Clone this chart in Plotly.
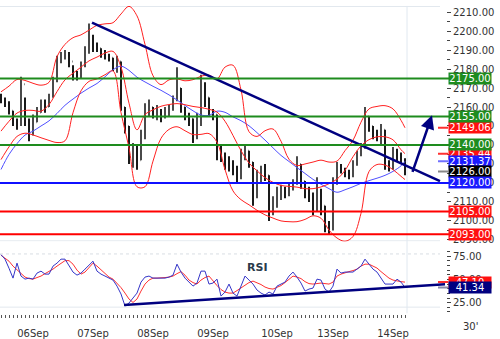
import plotly.graph_objects as go

W, H = 500, 339

def py(p):
    return 1 - p / H

# ---------------- data ----------------
bars = list(range(102))
opens = [2166,2164,2162,2158,2153,2151,2172,2152,2146,2152,
         2157,2162,2160,2165,2174,2184,2187,2188,2184,2176,
         2176,2182,2190,2196,2192,2191,2188,2187,2186,2182,
         2184,2160,2150,2134,2137,2132,2145,2157,2160,2157,
         2158,2155,2158,2159,2164,2170,2160,2156,2154,2145,
         2152,2172,2165,2157,2156,2140,2135,2131,2130,2128,
         2124,2134,2137,2131,2114,2122,2125,2124,2105,2108,
         2114,2116,2115,2117,2120,2130,2121,2116,2113,2106,
         2116,2108,2098,2096,2120,2128,2127,2125,2124,2130,
         2135,2139,2155,2150,2146,2145,2148,2131,2128,2137,
         2135,2132]
highs = [2167,2165,2163,2158,2154,2176,2165,2154,2156,2160,
         2164,2164,2167,2176,2187,2189,2190,2189,2182,2179,
         2184,2192,2204,2198,2194,2191,2190,2188,2186,2187,
         2184,2160,2150,2141,2140,2148,2162,2164,2160,2161,
         2159,2160,2161,2166,2181,2170,2160,2157,2154,2157,
         2177,2173,2165,2159,2156,2140,2136,2134,2132,2129,
         2138,2140,2137,2131,2127,2129,2130,2124,2113,2118,
         2119,2118,2120,2122,2134,2130,2121,2118,2115,2123,
         2117,2108,2100,2123,2131,2130,2128,2127,2132,2137,
         2141,2160,2155,2150,2148,2151,2148,2132,2139,2138,
         2136,2133]
lows = [2162,2160,2156,2150,2148,2150,2150,2142,2145,2152,
        2157,2157,2160,2165,2173,2183,2185,2181,2174,2174,
        2175,2181,2188,2189,2189,2186,2185,2184,2179,2178,
        2158,2146,2130,2128,2127,2132,2143,2155,2154,2153,
        2152,2154,2155,2158,2163,2157,2153,2150,2141,2143,
        2150,2160,2155,2153,2132,2131,2127,2126,2124,2120,
        2122,2132,2128,2108,2112,2120,2121,2100,2103,2107,
        2111,2112,2113,2116,2119,2117,2112,2110,2103,2105,
        2103,2094,2093,2095,2119,2125,2123,2122,2123,2129,
        2134,2138,2147,2143,2142,2140,2127,2126,2127,2131,
        2130,2124]
closes = [2164,2162,2158,2153,2151,2172,2152,2146,2152,2157,
          2162,2160,2165,2174,2184,2187,2188,2184,2176,2176,
          2182,2190,2196,2192,2191,2188,2187,2186,2182,2184,
          2160,2150,2134,2137,2132,2145,2157,2160,2157,2158,
          2155,2158,2159,2164,2170,2160,2156,2154,2145,2152,
          2172,2165,2157,2156,2140,2135,2131,2130,2128,2124,
          2134,2137,2131,2114,2122,2125,2124,2105,2108,2114,
          2116,2115,2117,2120,2130,2121,2116,2113,2106,2116,
          2108,2098,2096,2120,2128,2127,2125,2124,2130,2135,
          2139,2155,2150,2146,2145,2148,2131,2128,2137,2135,
          2132,2126]

band_bars = list(range(0, 101, 2)) + [101]
upper = [2168,2171,2174.5,2174,2172.5,2171.5,2173,2186.5,2193,2196.5,
         2198,2200.5,2203,2203.8,2204.4,2209,2213,2208,2193,2176.5,
         2171.8,2174.3,2174.8,2173.8,2174.4,2176.2,2176.8,2174.8,2181,2182,
         2169,2147,2144.5,2147.5,2148.4,2142,2132.5,2129.2,2130,2131,
         2132,2131,2131.5,2137,2142.5,2152,2159,2160.3,2160.7,2159,
         2153,2149.06]
middle = [2147.3,2152.5,2156.8,2158.2,2158.2,2157.8,2161.3,2168.1,2174.3,2177.8,
          2181,2184.3,2186.3,2188.4,2189.3,2181,2162,2148,2156,2158.5,
          2160.4,2161.3,2161.8,2161.2,2160.3,2159.7,2158.8,2157.3,2152.5,2145,
          2137,2130.5,2126.4,2122.8,2120.3,2118.7,2118.2,2117.8,2117,2117,
          2117.9,2119.6,2122,2126.6,2133.8,2139.5,2142.8,2144.3,2144.3,2142.7,
          2137.5,2135.44]
lower = [2132.3,2139,2144.5,2146.2,2145.3,2143.8,2142.4,2141.3,2142.2,2157,
         2168.5,2173.5,2174.8,2177,2179,2157,2138.5,2118,2118,2131.5,
         2143.5,2148.2,2149.6,2147.5,2145.5,2145.6,2146,2141.5,2127.1,2115.8,
         2111.2,2108.5,2105.6,2103.2,2101.5,2100,2099.6,2099.6,2100.8,2102.7,
         2101.4,2095.2,2091,2089.3,2091.8,2104,2126,2129.7,2129.4,2127,
         2123.5,2121.8]
ma_blue = [2127.1,2135,2140.7,2145.2,2147.3,2150,2152.7,2156.6,2160.9,2164.2,
           2167.3,2170,2172.4,2175.9,2179.6,2181.5,2179.3,2175.7,2173.2,2170.9,
           2168.8,2166.4,2163.7,2160.8,2158,2155.8,2155.6,2157.8,2157.2,2154.8,
           2152.8,2150.1,2146.5,2142.6,2138.5,2134.5,2131.3,2128.1,2125,2121.9,
           2119.3,2117,2115.1,2116.4,2118,2119.8,2121.2,2122.5,2124,2126.1,
           2129,2131.37]

rsi = [76.6,71.8,62,51.4,67.5,53.6,50.3,51.4,50.3,56.8,
       58.9,55.7,55.7,64.3,67.5,71.8,71.8,64.3,57.9,54.6,
       56.8,61.1,65.4,69.6,58.9,55.7,53.6,51.4,49.3,42.8,
       34.3,21.4,24.6,30,35.3,47.1,52.5,53.6,51.4,51.4,
       51.4,51.4,52.5,54.6,66.4,57.9,51.4,47.1,42.8,46.1,
       58.9,58.9,45,46.1,50.3,32.1,36.4,45,35.3,32.1,
       42.8,53.6,49.3,45,38.6,35.3,33.2,36.4,34.3,42.8,
       45,47.1,53.6,57.9,52.5,46.1,37.5,39.6,40.7,50.3,
       49.3,39.6,36.4,42.8,61.1,56.8,57.9,57.9,57.9,61.1,
       64.3,71.8,66.4,61.1,57.9,51.4,45,45,45,50.3,
       47.1,41.34]
rsi_ma = [76,72.9,69.6,64.3,60,56.2,52.5,50.9,50.3,52,
          53.6,56.2,58.4,61.1,64.3,67,70.2,70.2,66.4,60,
          55.7,57.9,63.2,67.5,64.3,60.5,56.8,52.5,50.3,46.1,
          41.2,35.3,28.9,25.2,28.9,37.5,45,49.3,51.4,51.4,
          51.4,52,52.5,53.6,56.2,58.4,54.6,49.3,46.6,45,
          49.3,52,53.6,48.2,43.4,39.1,36.4,35.3,35.3,38,
          40.7,43.9,46.6,48.2,46.6,44.5,41.8,40.2,39.6,41.2,
          43.4,46.6,49.8,53.6,52.5,50.9,47.6,45.5,45,45.5,
          46.1,45.5,45,47.1,53.6,55.7,57.4,58.4,59.5,61.1,
          64.3,66.4,66.4,64.3,62.2,58.4,54.6,51.4,49.3,48.2,
          47.6,47.1]

levels_green = [2175, 2155, 2140]
levels_blue = [2120]
levels_red = [2105, 2093]

trend_x = [22.75, 109.75]
trend_y = [2204.4, 2121.0]
arrow_x = [102.75, 107.75]
arrow_y = [2125.0, 2155.6]
rsi_trend_x = [30.75, 111.0]
rsi_trend_y = [22.6, 44.8]

date_bars = [8, 23, 38, 53, 69, 83, 98]
date_labels = ["06Sep", "07Sep", "08Sep", "09Sep", "10Sep", "13Sep", "14Sep"]
price_ticks = list(range(2090, 2211, 10))
rsi_ticks = [25, 50, 75]

# ---------------- colours ----------------
GREEN = "#1e8c1e"
RED = "#ff0000"
BLUE = "#1010ff"
NAVY = "#000080"
FONT = "DejaVu Sans"

XR = [-0.25, 111.25]
XDOM = [0, 446 / W]
PRICE_RANGE = [2089.22, 2213.25]
RSI_RANGE = [12.5, 80.3]

fig = go.Figure()

# Bollinger / MA lines
fig.add_trace(go.Scatter(x=band_bars, y=ma_blue, mode="lines", line=dict(color="#5050ff", width=1, shape="spline"), xaxis="x", yaxis="y"))
for arr in (upper, middle, lower):
    fig.add_trace(go.Scatter(x=band_bars, y=arr, mode="lines", line=dict(color="#ff2020", width=1, shape="spline"), xaxis="x", yaxis="y"))

# price bars (thin OHLC bars)
fig.add_trace(go.Ohlc(x=bars, open=opens, high=highs, low=lows, close=closes,
                      increasing=dict(line=dict(color="#4a4a4a", width=2)),
                      decreasing=dict(line=dict(color="#1a1a1a", width=2)),
                      tickwidth=0.12, xaxis="x", yaxis="y"))

# trend line
fig.add_trace(go.Scatter(x=trend_x, y=trend_y, mode="lines", line=dict(color=NAVY, width=2.5), xaxis="x", yaxis="y"))

# RSI
fig.add_trace(go.Scatter(x=bars, y=rsi_ma, mode="lines", line=dict(color="#ff3030", width=1), xaxis="x2", yaxis="y2"))
fig.add_trace(go.Scatter(x=bars, y=rsi, mode="lines", line=dict(color="#3535c8", width=1), xaxis="x2", yaxis="y2"))
fig.add_trace(go.Scatter(x=rsi_trend_x, y=rsi_trend_y, mode="lines", line=dict(color=NAVY, width=2.5), xaxis="x2", yaxis="y2"))

shapes = []
annotations = []

# light panel frame lines
for yv in (PRICE_RANGE[1] - 0.3, PRICE_RANGE[0] + 0.3):
    shapes.append(dict(type="line", xref="paper", yref="y", x0=0, x1=440 / W, y0=yv, y1=yv,
                       line=dict(color="#e2e8ee", width=1), layer="below"))
shapes.append(dict(type="line", xref="paper", yref="y2", x0=0, x1=440 / W, y0=77.4, y1=77.4,
                   line=dict(color="#d8dde3", width=1, dash="dot"), layer="below"))
shapes.append(dict(type="line", xref="paper", yref="y2", x0=0, x1=440 / W, y0=20.2, y1=20.2,
                   line=dict(color="#e2e8ee", width=1), layer="below"))
# current bar marker line
shapes.append(dict(type="line", xref="x", yref="paper", x0=101.5, x1=101.5, y0=py(318), y1=py(6),
                   line=dict(color="#e0e8f0", width=1), layer="below"))

# level lines
for lv in levels_green:
    shapes.append(dict(type="line", xref="paper", yref="y", x0=0, x1=450 / W, y0=lv, y1=lv,
                       line=dict(color=GREEN, width=2)))
for lv in levels_blue:
    shapes.append(dict(type="line", xref="paper", yref="y", x0=0, x1=450 / W, y0=lv, y1=lv,
                       line=dict(color=BLUE, width=2)))
for lv in levels_red:
    shapes.append(dict(type="line", xref="paper", yref="y", x0=0, x1=450 / W, y0=lv, y1=lv,
                       line=dict(color=RED, width=2)))

# last value dashes
for val, col, ax in ((upper[-1], "#ff3030", "y"), (middle[-1], "#ff3030", "y"),
                     (ma_blue[-1], "#7070ff", "y"), (closes[-1], "#888888", "y"),
                     (rsi_ma[-1], "#ff3030", "y2"), (rsi[-1], "#8888aa", "y2")):
    shapes.append(dict(type="line", xref="paper", yref=ax, x0=438 / W, x1=448 / W, y0=val, y1=val,
                       line=dict(color=col, width=2)))

def box(val, color, ax="y", text=None):
    annotations.append(dict(xref="paper", yref=ax, x=448 / W, y=val, xanchor="left", yanchor="middle",
                            text=text if text is not None else f"{val:.2f}", showarrow=False,
                            bgcolor=color, width=42, height=11, borderpad=0, align="center",
                            font=dict(family=FONT, size=10, color="white")))

box(middle[-1], "#ff1010")
box(upper[-1], "#ff1010")
for lv in levels_green:
    box(lv, GREEN)
box(ma_blue[-1], "#1a1aff")
box(closes[-1], "#000000")
for lv in levels_blue:
    box(lv, "#1a1aff")
for lv in levels_red:
    box(lv, "#ff1010")
box(rsi_ma[-1], "#ff1010", "y2")
box(rsi[-1], NAVY, "y2")

# arrow
annotations.append(dict(xref="x", yref="y", x=arrow_x[1], y=arrow_y[1], axref="x", ayref="y",
                        ax=arrow_x[0], ay=arrow_y[0], showarrow=True, arrowhead=2, arrowsize=1.1,
                        arrowwidth=2.5, arrowcolor=NAVY, text=""))
# RSI label
annotations.append(dict(xref="x2", yref="y2", x=64, y=62.5, text="<b>RSI</b>", showarrow=False,
                        xanchor="center", yanchor="middle",
                        font=dict(family=FONT, size=11, color="#2a3a4a")))
# timeframe label
annotations.append(dict(xref="paper", yref="paper", x=470 / W, y=py(331), text="30'", showarrow=False,
                        xanchor="center", yanchor="middle",
                        font=dict(family=FONT, size=10, color="#333333")))

tick_text = [date_labels[date_bars.index(b)] if b in date_bars else "" for b in bars]

fig.update_layout(
    width=W, height=H, margin=dict(l=0, r=0, t=0, b=0),
    paper_bgcolor="white", plot_bgcolor="white", showlegend=False,
    shapes=shapes, annotations=annotations,
    xaxis=dict(domain=XDOM, range=XR, anchor="y", showticklabels=False, ticks="",
               showgrid=False, zeroline=False, showline=False, rangeslider=dict(visible=False)),
    yaxis=dict(domain=[py(245), py(6)], range=PRICE_RANGE, anchor="x", side="right",
               tickvals=price_ticks, tickformat=".2f", ticks="outside", ticklen=4, tickcolor="#444",
               minor=dict(dtick=5, tick0=2085, ticks="outside", ticklen=3, tickcolor="#444"),
               showgrid=False, zeroline=False, showline=False, ticklabeloverflow="allow",
               tickfont=dict(family=FONT, size=10, color="#333333")),
    xaxis2=dict(domain=XDOM, range=XR, anchor="y2", tickvals=bars, ticktext=tick_text,
                ticks="outside", ticklen=3, tickcolor="#555", tickwidth=1, ticklabelstandoff=7,
                showgrid=False, zeroline=False, showline=False, ticklabeloverflow="allow",
                tickfont=dict(family=FONT, size=10, color="#333333")),
    yaxis2=dict(domain=[py(319), py(255)], range=RSI_RANGE, anchor="x2", side="right",
                tickvals=rsi_ticks, tickformat=".2f", ticks="outside", ticklen=4, tickcolor="#444",
                minor=dict(dtick=5, tick0=0, ticks="outside", ticklen=3, tickcolor="#444"),
                showgrid=False, zeroline=False, showline=False, ticklabeloverflow="allow",
                tickfont=dict(family=FONT, size=10, color="#333333")),
)

fig.write_html("out.html")
